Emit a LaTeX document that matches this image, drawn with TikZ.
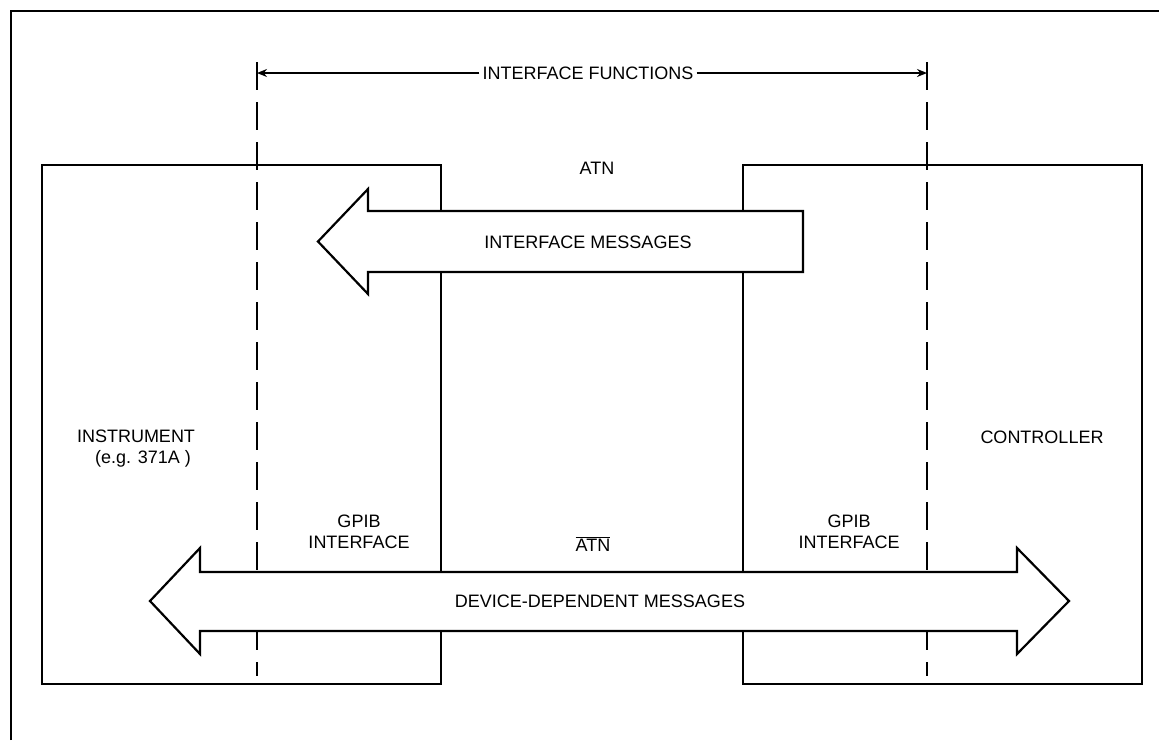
\documentclass[tikz,border=0pt]{standalone}
\usepackage{fontspec}
\setmainfont{Liberation Sans}
\usetikzlibrary{arrows.meta}
\tikzset{
  frameline/.style={line width=2.6pt},
  boxline/.style={line width=2.2pt},
  bigarrow/.style={line width=2.2pt, fill=white, line join=miter},
  dashline/.style={line width=2.2pt, dash pattern=on 28pt off 12pt},
  lbl/.style={font=\fontsize{18}{21}\selectfont, inner sep=1pt, align=center},
  dimarrow/.style={line width=1.8pt, -{Stealth[length=10pt,width=8pt]}}
}
\begin{document}
\begin{tikzpicture}[x=1pt,y=-1pt]
\useasboundingbox (0,0) rectangle (1159,740);
% outer frame (top and left sides)
\draw[frameline] (11,740) -- (11,11) -- (1159,11);
% dashed interface boundaries
\coordinate (dlt) at (257,62);
\coordinate (dlb) at (257,676);
\coordinate (drt) at (927,62);
\coordinate (drb) at (927,676);
\draw[dashline] (dlt) -- (dlb);
\draw[dashline] (drt) -- (drb);
% boxes
\draw[boxline] (42,165) rectangle (441,684);
\draw[boxline] (743,165) rectangle (1142,684);
% interface messages arrow (leftward)
\draw[bigarrow] (803,211) -- (368,211) -- (368,189) -- (318,241.5) -- (368,294) -- (368,272) -- (803,272) -- cycle;
% device-dependent messages arrow (both ways)
\draw[bigarrow] (200,572) -- (200,548) -- (150,601) -- (200,654) -- (200,631)
  -- (1017,631) -- (1017,654) -- (1069,601) -- (1017,548) -- (1017,572) -- cycle;
% interface functions dimension
\node[lbl, fill=white, inner sep=3pt] (ifn) at (588,73) {INTERFACE FUNCTIONS};
\coordinate (ifl) at (257,73);
\coordinate (ifr) at (927,73);
\draw[dimarrow] (ifn.west) -- (ifl);
\draw[dimarrow] (ifn.east) -- (ifr);
% labels
\node[lbl] (atn) at (597,168) {ATN};
\node[lbl] (im) at (588,242) {INTERFACE MESSAGES};
\node[lbl] (instr) at (136,449) {INSTRUMENT\\\hspace*{14pt}(e.g. 371A )};
\node[lbl] (ctrl) at (1042,437) {CONTROLLER};
\node[lbl] (gpibl) at (359,532) {GPIB\\INTERFACE};
\node[lbl] (gpibr) at (849,532) {GPIB\\INTERFACE};
\node[lbl] (natn) at (593,544) {$\overline{\hbox{ATN}}$};
\node[lbl] (ddm) at (600,601) {DEVICE-DEPENDENT MESSAGES};
\end{tikzpicture}
\end{document}
